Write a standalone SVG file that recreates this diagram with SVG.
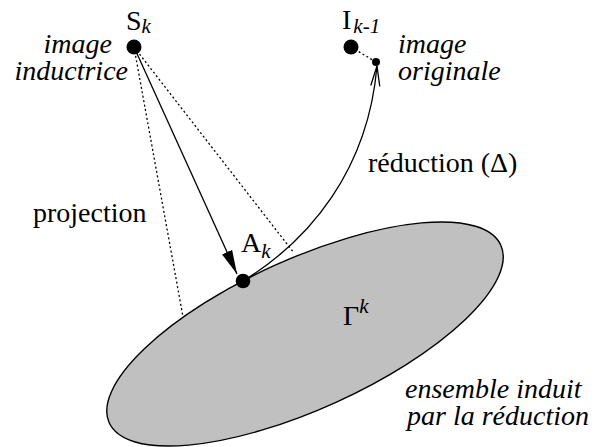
<svg xmlns="http://www.w3.org/2000/svg" width="595" height="447" viewBox="0 0 595 447">
<style>
text{font-family:'Liberation Serif','Times New Roman',serif;fill:#000;font-size:28px}
.it{font-style:italic}
.sub{font-style:italic;font-size:21px}
.dot{fill:#000}
.ln{stroke:#000;stroke-width:1.3;fill:none}
.dash{stroke:#000;stroke-width:1.3;fill:none;stroke-dasharray:2 2.5}
</style>
<defs>
<marker id="filled" markerUnits="userSpaceOnUse" markerWidth="30" markerHeight="16" refX="24" refY="6" orient="auto" viewBox="0 0 30 12">
<path d="M0,0.5 L24,6 L0,11.5 Z" fill="#000"/>
</marker>
<marker id="open" markerUnits="userSpaceOnUse" markerWidth="24" markerHeight="14" refX="21" refY="6" orient="auto" viewBox="0 0 24 12">
<path d="M1,1.5 L21,6 L1,10.5" fill="none" stroke="#000" stroke-width="1.3"/>
</marker>
</defs>
<g id="gamma">
<ellipse cx="305" cy="334" rx="215" ry="75" transform="rotate(-24.4 305 334)" fill="#c0c0c0" stroke="#000" stroke-width="1.4"/>
<text x="343" y="325">Γ<tspan class="sub" font-size="20" dy="-12">k</tspan></text>
<text class="it" x="405" y="398">ensemble induit</text>
<text class="it" x="407" y="425">par la réduction</text>
</g>
<g id="connectors">
<path class="dash" d="M134,47 L183,317"/>
<path class="dash" d="M134,47 L294,253"/>
<path class="dash" d="M351,47 L376,62"/>
<path class="ln" d="M134,47 L237,274" marker-end="url(#filled)"/>
<path class="ln" d="M243,281 C310,240 368,170 377,66" marker-end="url(#open)"/>
<text x="33" y="222">projection</text>
<text x="368" y="172">réduction (Δ)</text>
</g>
<g id="sk">
<circle class="dot" cx="134" cy="47" r="7.5"/>
<text x="126" y="30">S<tspan class="sub" dy="3">k</tspan></text>
<text class="it" x="112" y="53" text-anchor="end">image</text>
<text class="it" x="128" y="80" text-anchor="end">inductrice</text>
</g>
<g id="ik1">
<circle class="dot" cx="351" cy="47" r="7.5"/>
<circle class="dot" cx="376" cy="62" r="4"/>
<text x="342" y="29">I<tspan class="sub" dx="2" dy="4">k-1</tspan></text>
<text class="it" x="398" y="53">image</text>
<text class="it" x="398" y="80">originale</text>
</g>
<g id="ak">
<circle class="dot" cx="243" cy="281" r="7.3"/>
<text x="241" y="252">A<tspan class="sub" dy="6">k</tspan></text>
</g>
</svg>
